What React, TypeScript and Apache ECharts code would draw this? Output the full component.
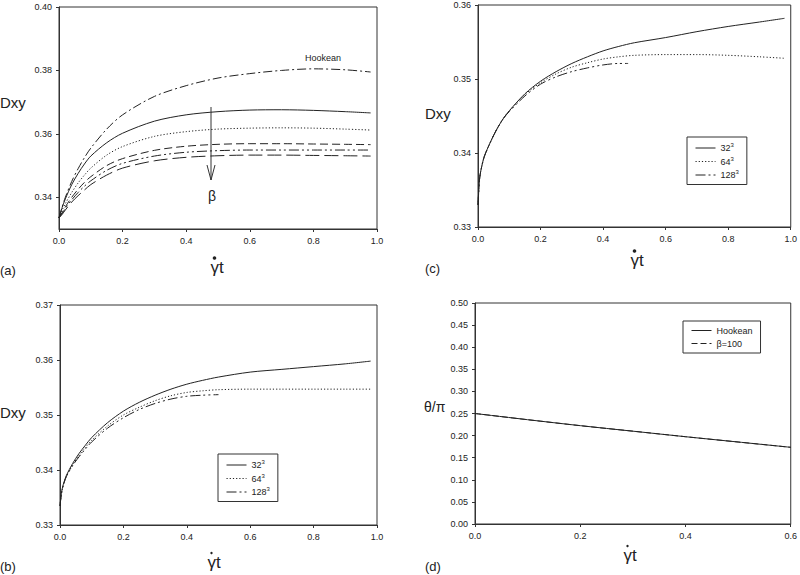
import React, { useEffect, useRef } from "react";
import * as echarts from "echarts";

// ---------- data ----------
// panel (a): time grid and six curves (Hookean down to largest beta)
const tA = [0, 0.01, 0.02, 0.04, 0.06, 0.08, 0.1, 0.15, 0.2, 0.3, 0.4, 0.5, 0.6, 0.7, 0.8, 0.9, 0.98];
const aHookean = [0.3335, 0.337, 0.34, 0.345, 0.349, 0.3525, 0.3555, 0.3615, 0.366, 0.3718, 0.3752, 0.3776, 0.379, 0.38, 0.3805, 0.3802, 0.3795];
const aBeta1 = [0.3335, 0.3368, 0.3395, 0.344, 0.3475, 0.3505, 0.353, 0.3572, 0.3602, 0.364, 0.366, 0.367, 0.3675, 0.3676, 0.3674, 0.367, 0.3666];
const aBeta2 = [0.3335, 0.336, 0.338, 0.3415, 0.3445, 0.347, 0.3492, 0.3533, 0.356, 0.3592, 0.3607, 0.3615, 0.3618, 0.3619, 0.3618, 0.3615, 0.3612];
const aBeta3 = [0.3335, 0.3352, 0.337, 0.34, 0.3425, 0.3447, 0.3465, 0.35, 0.3522, 0.3548, 0.3561, 0.3567, 0.3569, 0.3569, 0.3568, 0.3567, 0.3566];
const aBeta4 = [0.3335, 0.3349, 0.3365, 0.3392, 0.3415, 0.3435, 0.3452, 0.3485, 0.3507, 0.353, 0.3542, 0.3547, 0.3549, 0.3549, 0.3549, 0.3549, 0.3549];
const aBeta5 = [0.3335, 0.3346, 0.336, 0.3385, 0.3405, 0.3423, 0.344, 0.347, 0.3492, 0.3515, 0.3526, 0.3531, 0.3533, 0.3533, 0.3532, 0.3531, 0.353];

// panels (b) and (c): grid resolution study
const tBC = [0, 0.005, 0.01, 0.02, 0.04, 0.06, 0.08, 0.1, 0.15, 0.2, 0.25, 0.3, 0.35, 0.4, 0.45, 0.5, 0.6, 0.7, 0.8, 0.9, 0.98];
const tB128 = [0, 0.005, 0.01, 0.02, 0.04, 0.06, 0.08, 0.1, 0.15, 0.2, 0.25, 0.3, 0.35, 0.4, 0.45, 0.5];
const tC128 = [0, 0.005, 0.01, 0.02, 0.04, 0.06, 0.08, 0.1, 0.15, 0.2, 0.25, 0.3, 0.35, 0.4, 0.45, 0.48];

const b32 = [0.3335, 0.336, 0.3373, 0.339, 0.3412, 0.343, 0.3445, 0.3459, 0.3486, 0.3507, 0.3523, 0.3536, 0.3547, 0.3556, 0.3563, 0.3569, 0.3578, 0.3583, 0.3588, 0.3593, 0.3598];
const b64 = [0.3335, 0.3358, 0.3371, 0.3388, 0.3409, 0.3426, 0.3441, 0.3454, 0.348, 0.35, 0.3514, 0.3526, 0.3535, 0.3541, 0.3544, 0.3546, 0.3547, 0.3547, 0.3547, 0.3547, 0.3547];
const b128 = [0.3335, 0.3358, 0.3371, 0.3388, 0.3408, 0.3424, 0.3438, 0.3451, 0.3476, 0.3495, 0.351, 0.3521, 0.3529, 0.3534, 0.3536, 0.3537];

const c32 = [0.333, 0.3365, 0.3378, 0.3395, 0.3415, 0.3432, 0.3446, 0.3457, 0.348, 0.3497, 0.351, 0.3521, 0.353, 0.3538, 0.3544, 0.3549, 0.3556, 0.3564, 0.3571, 0.3577, 0.3582];
const c64 = [0.333, 0.3365, 0.3378, 0.3395, 0.3415, 0.3432, 0.3446, 0.3457, 0.3479, 0.3495, 0.3507, 0.3516, 0.3522, 0.3527, 0.353, 0.3532, 0.3533, 0.3533, 0.3532, 0.353, 0.3528];
const c128 = [0.333, 0.3365, 0.3378, 0.3395, 0.3415, 0.3432, 0.3446, 0.3456, 0.3477, 0.3493, 0.3503, 0.351, 0.3515, 0.3519, 0.3521, 0.3521];

// panel (d): orientation angle
const tD = [0, 0.1, 0.2, 0.3, 0.4, 0.5, 0.6];
const dHookean = [0.25, 0.236, 0.2225, 0.21, 0.1975, 0.1855, 0.1735];
const dBeta100 = [0.25, 0.236, 0.2225, 0.21, 0.1975, 0.1855, 0.1735];

// tick values
const yTicksA = [0.34, 0.36, 0.38, 0.4];
const yTicksB = [0.33, 0.34, 0.35, 0.36, 0.37];
const yTicksC = [0.33, 0.34, 0.35, 0.36];

const legendLabels: Record<string, string> = {
  b32: "{n|32}{s|3}",
  b64: "{n|64}{s|3}",
  b128: "{n|128}{s|3}",
  c32: "{n|32}{s|3}",
  c64: "{n|64}{s|3}",
  c128: "{n|128}{s|3}",
  dHook: "{n|Hookean}",
  dBeta: "{n|β=100}",
};

const FONT = "Liberation Sans, Arial, Helvetica, sans-serif";
const INK = "#222";

const pairs = (xs: number[], ys: number[]) => xs.map((x, i) => [x, ys[i]]);

function xAxisFor(gridIndex: number, max: number) {
  return {
    type: "value",
    gridIndex,
    min: 0,
    max,
    interval: 0.2,
    axisLine: { show: true, lineStyle: { color: "#333", width: 1 } },
    axisTick: { show: true, inside: false, length: 3, lineStyle: { color: "#333" } },
    axisLabel: {
      fontSize: 9,
      fontFamily: FONT,
      color: INK,
      margin: 7,
      formatter: (v: number) => v.toFixed(1),
    },
    splitLine: { show: false },
  };
}

function yAxisFor(gridIndex: number, min: number, max: number, ticks: number[] | null, interval?: number) {
  const ax: any = {
    type: "value",
    gridIndex,
    min,
    max,
    axisLine: { show: true, lineStyle: { color: "#333", width: 1 } },
    axisTick: { show: true, inside: false, length: 3, lineStyle: { color: "#333" } },
    axisLabel: {
      fontSize: 9,
      fontFamily: FONT,
      color: INK,
      margin: 7,
      formatter: (v: number) => v.toFixed(2),
    },
    splitLine: { show: false },
  };
  if (ticks) {
    ax.axisLabel.customValues = ticks;
    ax.axisTick.customValues = ticks;
  }
  if (interval) ax.interval = interval;
  return ax;
}

function lineSeries(name: string, idx: number, data: number[][], dash: any) {
  return {
    type: "line",
    name,
    xAxisIndex: idx,
    yAxisIndex: idx,
    data,
    smooth: 0.3,
    symbol: "none",
    showSymbol: false,
    itemStyle: { color: "rgba(0,0,0,0)", borderWidth: 0 },
    lineStyle: { color: INK, width: 1, type: dash },
    silent: true,
  };
}

const DASH_DOT = [9, 3, 2, 3];
const DOT = [1.2, 2];
const DASH = [8, 4];
const DASH_DOT_DOT = [10, 3, 2, 3, 2, 3];
const LONG_DASH = [14, 5];

function legendFor(data: string[], left: number, top: number, itemGap: number) {
  return {
    data,
    left,
    top,
    orient: "vertical",
    selectedMode: false,
    itemWidth: 20,
    itemHeight: 10,
    itemGap,
    padding: [5, 8, 5, 8],
    borderColor: "#333",
    borderWidth: 1,
    backgroundColor: "#fff",
    itemStyle: { color: "rgba(0,0,0,0)", borderWidth: 0 },
    lineStyle: { width: 1 },
    formatter: (name: string) => legendLabels[name],
    textStyle: {
      color: INK,
      fontFamily: FONT,
      fontSize: 9,
      rich: {
        n: { fontSize: 9, fontFamily: FONT, color: INK },
        s: { fontSize: 6, fontFamily: FONT, color: INK, padding: [0, 0, 6, 0] },
      },
    },
  };
}

function txt(text: string, x: number, y: number, fontSize: number, align = "left", extra: any = {}) {
  return {
    type: "text",
    x,
    y,
    silent: true,
    style: {
      text,
      fontSize,
      fontFamily: FONT,
      fill: INK,
      align,
      verticalAlign: "middle",
      ...extra,
    },
  };
}

// gamma-dot-t axis title: text plus a dot over the gamma
function gammaDotT(cx: number, cy: number, r: number) {
  return [
    txt("γt", cx, cy, 17, "center"),
    {
      type: "circle",
      silent: true,
      shape: { cx: cx - 2.5, cy: cy - 9, r },
      style: { fill: INK },
    },
  ];
}

export default function App() {
  const ref = useRef<HTMLDivElement>(null);
  useEffect(() => {
    if (!ref.current) return;
    const chart = echarts.init(ref.current, null, { renderer: "svg" });
    const option: any = {
      animation: false,
      backgroundColor: "#fff",
      grid: [
        { left: 59, top: 7, width: 318, height: 222, show: true, borderColor: "#333", borderWidth: 1, backgroundColor: "transparent" },
        { left: 60, top: 305, width: 317, height: 220, show: true, borderColor: "#333", borderWidth: 1, backgroundColor: "transparent" },
        { left: 478, top: 5, width: 316, height: 222, show: true, borderColor: "#333", borderWidth: 1, backgroundColor: "transparent" },
        { left: 475, top: 303, width: 316, height: 221, show: true, borderColor: "#333", borderWidth: 1, backgroundColor: "transparent" },
      ],
      xAxis: [xAxisFor(0, 1), xAxisFor(1, 1), xAxisFor(2, 1), xAxisFor(3, 0.6)],
      yAxis: [
        yAxisFor(0, 0.33, 0.4, yTicksA),
        yAxisFor(1, 0.33, 0.37, yTicksB),
        yAxisFor(2, 0.33, 0.36, yTicksC),
        yAxisFor(3, 0, 0.5, null, 0.05),
      ],
      legend: [
        legendFor(["b32", "b64", "b128"], 218, 454, 3),
        legendFor(["c32", "c64", "c128"], 687, 137, 3),
        legendFor(["dHook", "dBeta"], 683, 321, 4),
      ],
      series: [
        lineSeries("aHookean", 0, pairs(tA, aHookean), DASH_DOT),
        lineSeries("aBeta1", 0, pairs(tA, aBeta1), "solid"),
        lineSeries("aBeta2", 0, pairs(tA, aBeta2), DOT),
        lineSeries("aBeta3", 0, pairs(tA, aBeta3), DASH),
        lineSeries("aBeta4", 0, pairs(tA, aBeta4), DASH_DOT_DOT),
        lineSeries("aBeta5", 0, pairs(tA, aBeta5), LONG_DASH),
        lineSeries("b32", 1, pairs(tBC, b32), "solid"),
        lineSeries("b64", 1, pairs(tBC, b64), DOT),
        lineSeries("b128", 1, pairs(tB128, b128), DASH_DOT_DOT),
        lineSeries("c32", 2, pairs(tBC, c32), "solid"),
        lineSeries("c64", 2, pairs(tBC, c64), DOT),
        lineSeries("c128", 2, pairs(tC128, c128), DASH_DOT_DOT),
        lineSeries("dHook", 3, pairs(tD, dHookean), "solid"),
        lineSeries("dBeta", 3, pairs(tD, dBeta100), [6, 3]),
      ],
      graphic: [
        // y-axis titles
        txt("Dxy", 0, 102, 15),
        txt("Dxy", 0, 412, 15),
        txt("Dxy", 425, 113, 15),
        txt("θ/π", 424, 407, 14),
        // x-axis titles
        ...gammaDotT(217, 267, 1.8),
        ...gammaDotT(214, 562, 1.2),
        ...gammaDotT(637, 260, 1.8),
        ...gammaDotT(630, 555, 1.2),
        // panel labels
        txt("(a)", 0, 270, 13),
        txt("(b)", 0, 566, 13),
        txt("(c)", 425, 268, 13),
        txt("(d)", 425, 566, 13),
        // annotations in (a)
        txt("Hookean", 305, 58, 9),
        txt("β", 212, 196, 14, "center"),
        {
          type: "line",
          silent: true,
          shape: { x1: 211, y1: 107, x2: 211, y2: 180 },
          style: { stroke: "#333", lineWidth: 1 },
        },
        {
          type: "polyline",
          silent: true,
          shape: { points: [[207, 165], [211, 180], [215, 165]] },
          style: { stroke: "#333", lineWidth: 1, fill: "none" },
        },
      ],
    };
    chart.setOption(option);
    return () => chart.dispose();
  }, []);
  return (
    <div
      ref={ref}
      style={{ position: "absolute", left: 0, top: 0, width: 800, height: 575, background: "#fff" }}
    />
  );
}
